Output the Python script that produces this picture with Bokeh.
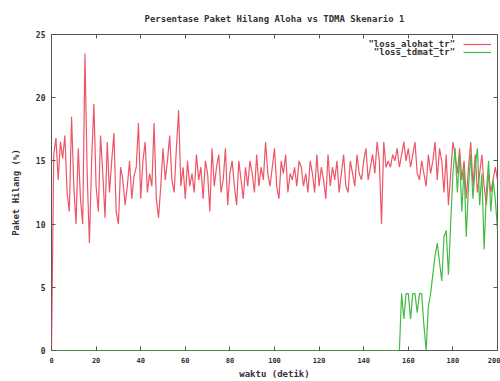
from bokeh.plotting import figure
from bokeh.models import (Range1d, LinearAxis, FixedTicker, CustomJSTickFormatter,
                          Label, Legend, LegendItem)
from bokeh.embed import file_html
from bokeh.resources import INLINE

# time axis (seconds) and packet-loss percentages per second
waktu = list(range(0, 201))

loss_aloha = [
    0.0, 15.5, 16.8, 13.5, 16.5, 15.2, 17.0, 12.5, 11.0, 18.5,
    13.0, 10.0, 16.0, 12.0, 10.0, 23.5, 14.0, 8.5, 15.0, 19.5,
    13.0, 11.0, 17.0, 14.0, 10.5, 16.5, 12.5, 15.0, 17.2, 11.0,
    10.0, 14.5, 13.5, 11.5, 13.0, 15.0, 12.0, 13.8, 14.5, 18.0,
    12.0, 15.0, 16.5, 12.5, 14.0, 13.0, 18.0, 12.0, 10.5, 13.0,
    16.0, 13.5, 15.0, 17.0, 13.5, 12.5, 16.0, 19.0, 13.0, 14.5,
    12.0, 15.0, 13.0, 14.0, 12.5, 15.5, 13.5, 14.5, 12.0, 15.0,
    14.0, 11.0, 16.0, 13.0, 14.5, 15.5, 12.5, 13.5, 16.0, 11.5,
    14.0, 15.0, 13.0, 11.5, 15.0, 13.5, 12.0, 14.5, 13.0, 15.0,
    14.0, 12.5, 15.5, 13.0, 14.5, 13.5, 16.5, 14.0, 13.0, 14.5,
    16.0, 13.0, 12.0, 15.0, 14.0, 15.5, 12.5, 14.0, 13.5, 14.5,
    13.0, 15.0, 14.5, 13.0, 14.0, 12.5, 15.0, 14.0, 12.5, 15.5,
    13.0, 14.5, 13.5, 12.0, 15.5, 13.0, 14.5, 13.5, 15.0, 12.5,
    14.0, 15.5, 13.0, 12.5, 15.0, 14.0, 13.0, 15.5, 14.0, 13.5,
    15.0, 16.0, 13.5, 14.5, 15.5, 14.0, 16.5, 15.0, 10.0, 16.5,
    14.5, 15.0, 14.5, 15.5, 15.0, 16.0, 14.5, 15.5, 16.5, 15.0,
    16.0, 14.5, 15.5, 16.5, 14.0, 13.5, 15.0, 14.0, 13.0, 15.5,
    14.0, 15.0, 16.5, 13.5, 16.0, 15.0, 12.5, 15.5, 11.5, 14.0,
    16.5, 15.5, 14.0, 16.0, 13.5, 15.0, 12.0, 14.5, 16.5, 13.0,
    15.5, 12.5, 14.0, 15.5, 13.0, 11.5, 14.0, 12.5, 13.5, 14.5,
    13.5,
]

loss_tdma = [0.0] * 157 + [
    4.5, 2.5, 4.5, 4.5, 2.5, 4.5, 4.5, 3.0, 4.5, 4.5,
    2.0, 0.0, 3.5, 4.5, 6.0, 7.5, 8.5, 7.0, 5.5, 9.0,
    9.5, 6.0, 10.0, 14.0, 16.0, 12.5, 15.5, 11.0, 14.5, 9.0,
    13.0, 15.5, 12.0, 14.5, 16.0, 11.5, 14.0, 8.0, 12.5, 15.0,
    11.0, 13.5, 12.0, 9.5,
]

x_ticks = [0, 20, 40, 60, 80, 100, 120, 140, 160, 180, 200]
y_ticks = [0, 5, 10, 15, 20, 25]

series_names = ['"loss_alohat_tr"', '"loss_tdmat_tr"']
series_colors = ["#ee5566", "#44bb44"]

FONT = "DejaVu Sans Mono"

p = figure(width=500, height=381, output_backend="svg", toolbar_location=None,
           x_range=Range1d(0, 200), y_range=Range1d(0, 25),
           min_border_left=51, min_border_right=3, min_border_top=33,
           min_border_bottom=29)
p.background_fill_color = "white"
p.border_fill_color = "white"
p.outline_line_color = "#555555"
p.outline_line_width = 1
p.grid.visible = False

p.title.text = "Persentase Paket Hilang Aloha vs TDMA Skenario 1"
p.title.align = "center"
p.title.text_font = FONT
p.title.text_font_size = "9px"
p.title.text_font_style = "bold"
p.title.text_color = "#333333"
p.title.standoff = 22

for ax in (p.xaxis[0], p.yaxis[0]):
    ax.axis_line_color = None
    ax.major_tick_in = 4
    ax.major_tick_out = 0
    ax.minor_tick_line_color = None
    ax.major_tick_line_color = "#555555"
    ax.major_label_text_font = FONT
    ax.major_label_text_font_style = "bold"
    ax.major_label_text_color = "#333333"
    ax.axis_label_text_font = FONT
    ax.axis_label_text_font_style = "bold"
    ax.axis_label_text_font_size = "9px"
    ax.axis_label_text_color = "#333333"

p.xaxis[0].ticker = FixedTicker(ticks=x_ticks)
p.yaxis[0].ticker = FixedTicker(ticks=y_ticks)
p.xaxis[0].major_label_text_font_size = "7px"
p.yaxis[0].major_label_text_font_size = "8px"
p.xaxis[0].major_label_standoff = 6
p.yaxis[0].major_label_standoff = 6
p.xaxis[0].axis_label = "waktu (detik)"
p.yaxis[0].axis_label = "Paket Hilang (%)"
p.xaxis[0].axis_label_standoff = 3
p.yaxis[0].axis_label_standoff = 12

# mirrored ticks on the top and right borders
blank = CustomJSTickFormatter(code="return ''")
top = LinearAxis(ticker=FixedTicker(ticks=x_ticks), formatter=blank,
                 axis_line_color=None, major_tick_in=4, major_tick_out=0,
                 minor_tick_line_color=None, major_tick_line_color="#555555",
                 major_label_standoff=0, major_label_text_font_size="1px")
right = LinearAxis(ticker=FixedTicker(ticks=y_ticks), formatter=blank,
                   axis_line_color=None, major_tick_in=4, major_tick_out=0,
                   minor_tick_line_color=None, major_tick_line_color="#555555",
                   major_label_standoff=0, major_label_text_font_size="1px")
p.add_layout(top, "above")
p.add_layout(right, "right")

r1 = p.line(waktu, loss_aloha, line_color=series_colors[0], line_width=1.2)
r2 = p.line(waktu, loss_tdma, line_color=series_colors[1], line_width=1.2)

# gnuplot-style key: line samples at the right edge, names to their left
key = Legend(items=[LegendItem(label="", renderers=[r1]),
                    LegendItem(label="", renderers=[r2])],
             location="top_right", glyph_width=28, glyph_height=8,
             label_standoff=0, label_width=0, spacing=0, padding=2,
             margin=6, background_fill_alpha=0, border_line_color=None,
             label_text_font_size="8px", label_height=8)
p.add_layout(key)

for i, name in enumerate(series_names):
    p.add_layout(Label(x=181.0, y=24.25 - 0.63 * i, text=name,
                       text_align="right", text_baseline="middle",
                       text_font=FONT, text_font_size="9px",
                       text_font_style="bold", text_color="#333333"))

open("out.html", "w").write(file_html(p, INLINE))
